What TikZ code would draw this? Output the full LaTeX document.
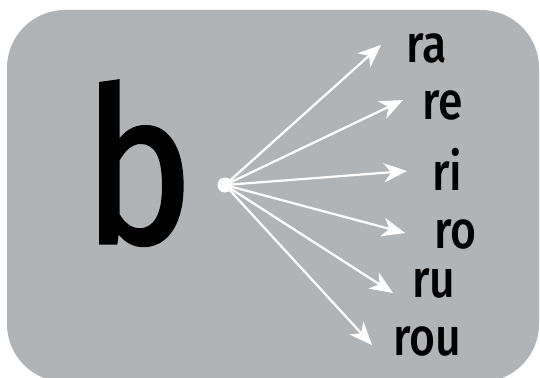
\documentclass[tikz,border=0pt]{standalone}
\usepackage{fontspec}
\setmainfont{Fira Sans}
\newfontfamily\huruf[FakeStretch=0.86,FakeBold=1.5]{Fira Sans}
\IfFontExistsTF{Fira Sans Medium}
  {\newfontfamily\sempit[FakeStretch=0.84]{Fira Sans Medium}}
  {\newfontfamily\sempit[FakeStretch=0.84,FakeBold=1]{Fira Sans}}
\usetikzlibrary{arrows.meta}
\definecolor{latar}{RGB}{177,180,183}

\begin{document}
\begin{tikzpicture}[x=1pt,y=-1pt,
    panah/.style={white,line width=2.2pt,-{Stealth[length=23pt,width=19pt,inset=7pt]}},
    suku/.style={anchor=base west,inner sep=0pt,font=\sempit\fontsize{53}{53}\selectfont}]
    \useasboundingbox (0,0) rectangle (540,377);
    \clip (0,0) rectangle (540,377);

    % Latar
    \fill[latar,rounded corners=58pt] (7,10) rectangle (539,382);

    % Huruf utama
    \node[anchor=base west,inner sep=0pt,font=\huruf\fontsize{216}{216}\selectfont] (b) at (83,243) {b};

    % Titik asal
    \node[circle,fill=white,inner sep=0pt,minimum size=15pt] (titik) at (225,185) {};

    % Suku kata
    \node[suku] (ra)  at (406,63)  {ra};
    \node[suku] (re)  at (422,120) {re};
    \node[suku] (ri)  at (432,190) {ri};
    \node[suku] (ro)  at (434,248) {ro};
    \node[suku] (ru)  at (412,297) {ru};
    \node[suku] (rou) at (393,355) {rou};

    % Ujung panah
    \coordinate (u-ra)  at (381,45);
    \coordinate (u-re)  at (403,100);
    \coordinate (u-ri)  at (407,171);
    \coordinate (u-ro)  at (405,233);
    \coordinate (u-ru)  at (393,293);
    \coordinate (u-rou) at (372,345);

    \foreach \s in {ra,re,ri,ro,ru,rou}
        \draw[panah] (titik.center) -- (u-\s);
\end{tikzpicture}
\end{document}
